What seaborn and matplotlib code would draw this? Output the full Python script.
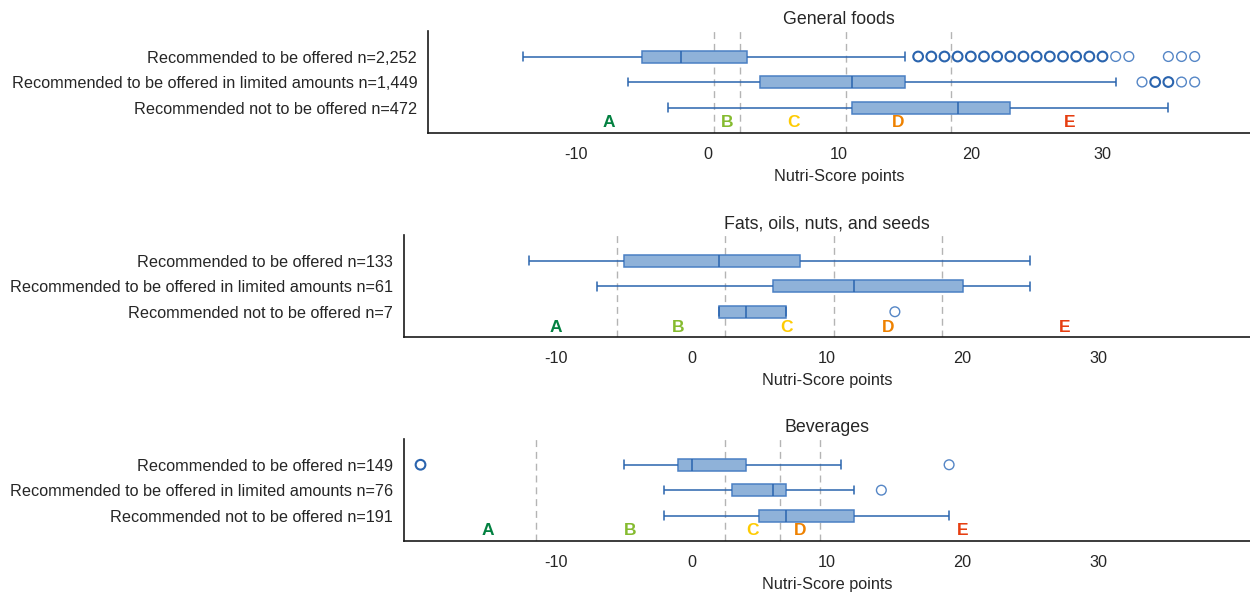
import pandas as pd
import matplotlib
matplotlib.use("Agg")
import matplotlib.pyplot as plt
import seaborn as sns

# panel titles
titles = ["General foods", "Fats, oils, nuts, and seeds", "Beverages"]

# group labels per panel
general_labels = ["Recommended to be offered n=2,252",
                  "Recommended to be offered in limited amounts n=1,449",
                  "Recommended not to be offered n=472"]
fats_labels = ["Recommended to be offered n=133",
               "Recommended to be offered in limited amounts n=61",
               "Recommended not to be offered n=7"]
bev_labels = ["Recommended to be offered n=149",
              "Recommended to be offered in limited amounts n=76",
              "Recommended not to be offered n=191"]

# five number summaries: whisker low, Q1, median, Q3, whisker high
general_stats = [[-14, -5, -2, 3, 15], [-6, 4, 11, 15, 31], [-3, 11, 19, 23, 35]]
fats_stats = [[-12, -5, 2, 8, 25], [-7, 6, 12, 20, 25], [2, 2, 4, 7, 7]]
bev_stats = [[-5, -1, 0, 4, 11], [-2, 3, 6, 7, 12], [-2, 5, 7, 12, 19]]

# outliers (single points / stacked points)
general_out_single = [[31, 32, 35, 36, 37], [33, 36, 37], []]
general_out_multi = [[16, 17, 18, 19, 20, 21, 22, 23, 24, 25, 26, 27, 28, 29, 30], [34, 35], []]
fats_out_single = [[], [], [15]]
fats_out_multi = [[], [], []]
bev_out_single = [[19], [14], []]
bev_out_multi = [[-20], [], []]

# Nutri-Score grade cut-offs and letter positions
general_cuts = [0.5, 2.5, 10.5, 18.5]
fats_cuts = [-5.5, 2.5, 10.5, 18.5]
bev_cuts = [-11.5, 2.5, 6.5, 9.5]
grades = ["A", "B", "C", "D", "E"]
grade_colors = ["#038141", "#85BB2F", "#FECB02", "#EE8100", "#E63E11"]
general_letter_x = [-7.5, 1.5, 6.5, 14.5, 27.5]
fats_letter_x = [-10, -1, 7, 14.5, 27.5]
bev_letter_x = [-15, -4.5, 4.5, 8, 20]

x_ticks = [-10, 0, 10, 20, 30]

sns.set_theme(style="white")
plt.rcParams['font.family'] = ['Liberation Sans', 'DejaVu Sans']
plt.rcParams['axes.unicode_minus'] = False

fig = plt.figure(figsize=(12.5, 5.92), dpi=100)

panels = [
    (general_labels, general_stats, general_out_single, general_out_multi, general_cuts, general_letter_x),
    (fats_labels, fats_stats, fats_out_single, fats_out_multi, fats_cuts, fats_letter_x),
    (bev_labels, bev_stats, bev_out_single, bev_out_multi, bev_cuts, bev_letter_x),
]
rects = [[0.3426, 0.7753, 0.6574, 0.1723],
         [0.3234, 0.4302, 0.6766, 0.1728],
         [0.3234, 0.0861, 0.6766, 0.1718]]

face = "#8fb2d9"
edge = "#4a80c4"
line = "#2a64ae"
fs = 11.7

for i, (labels, stats, out1, out2, cuts, letter_x) in enumerate(panels):
    ax = fig.add_axes(rects[i])

    rows = []
    for lab, st in zip(labels, stats):
        for v in st:
            rows.append({"group": lab, "points": v})
    df = pd.DataFrame(rows)

    for c in cuts:
        ax.axvline(c, color="#b4b4b4", lw=1.0, dashes=(5, 3.5), zorder=0)

    sns.boxplot(data=df, x="points", y="group", order=labels, whis=(0, 100),
                width=0.47, color=face, saturation=1, linecolor=line, linewidth=1.1,
                fliersize=0, ax=ax, capwidths=0.34,
                boxprops=dict(facecolor=face, edgecolor=edge, zorder=2),
                medianprops=dict(color=line, linewidth=1.1))

    single = pd.DataFrame([{"group": lab, "points": v} for lab, vs in zip(labels, out1) for v in vs])
    multi = pd.DataFrame([{"group": lab, "points": v} for lab, vs in zip(labels, out2) for v in vs])
    if len(single):
        sns.stripplot(data=single, x="points", y="group", order=labels, jitter=False,
                      marker="o", s=7, facecolor="none", edgecolor="#5586c6",
                      linewidth=1.0, ax=ax, zorder=3)
    if len(multi):
        sns.stripplot(data=multi, x="points", y="group", order=labels, jitter=False,
                      marker="o", s=7, facecolor="none", edgecolor="#2a64ae",
                      linewidth=1.5, ax=ax, zorder=3)

    for g, gx, gc in zip(grades, letter_x, grade_colors):
        ax.text(gx, 2.6, g, color=gc, fontsize=12.5, fontweight="bold",
                ha="center", va="center")

    ax.set_xlim(-21.2, 41.2)
    ax.set_ylim(3.0, -1.0)
    ax.set_xticks(x_ticks)
    ax.set_xticklabels([str(t) for t in x_ticks])
    ax.set_ylabel("")
    ax.set_xlabel("Nutri-Score points", fontsize=fs, labelpad=5, color="#262626")
    ax.set_title(titles[i], fontsize=12.8, pad=5, color="#262626")
    ax.tick_params(axis="both", length=0, labelsize=fs, colors="#262626")
    ax.tick_params(axis="x", pad=10)
    ax.tick_params(axis="y", pad=8)
    sns.despine(ax=ax)
    for s in ["left", "bottom"]:
        ax.spines[s].set_color("#1a1a1a")
        ax.spines[s].set_linewidth(1.2)

fig.savefig("out.png", dpi=100)
